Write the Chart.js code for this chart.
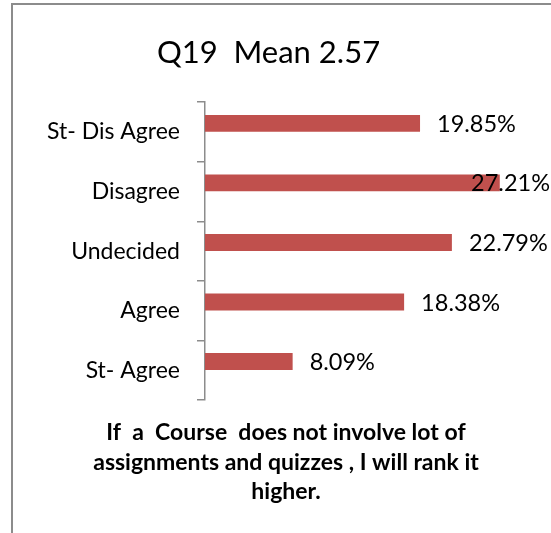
<!DOCTYPE html>
<html>
<head>
<meta charset="utf-8">
<script src="https://cdn.jsdelivr.net/npm/chart.js@4/dist/chart.umd.min.js"></script>
<style>
  html, body { margin: 0; padding: 0; background: #ffffff; overflow: hidden; }
  #frame { position: absolute; left: 11px; top: 3px; width: 700px; height: 700px;
           border-left: 2px solid #8c8c8c; border-top: 2px solid #8c8c8c; }
  #c { position: absolute; left: 0; top: 0; }
</style>
</head>
<body>
<div id="frame"></div>
<canvas id="c" width="551" height="533"></canvas>
<script>
// ---- data ----
const categories = ["St- Dis Agree", "Disagree", "Undecided", "Agree", "St- Agree"];
const percentValues = [19.85, 27.21, 22.79, 18.38, 8.09];
const emptySeries = [null, null, null, null, null];
const chartTitle = "Q19  Mean 2.57";
const captionLines = ["If  a  Course  does not involve lot of",
                      "assignments and quizzes , I will rank it",
                      "higher."];

const FONT = "Lato, 'Open Sans', 'Liberation Sans', sans-serif";

const valueLabels = {
  id: 'valueLabels',
  afterDatasetsDraw(chart) {
    const ctx = chart.ctx;
    const meta = chart.getDatasetMeta(0);
    ctx.save();
    ctx.font = "23.5px " + FONT;
    ctx.fillStyle = "#000000";
    ctx.textBaseline = "middle";
    ctx.textAlign = "left";
    meta.data.forEach((bar, i) => {
      const txt = percentValues[i].toFixed(2) + "%";
      const w = ctx.measureText(txt).width;
      let x = bar.x + 17;
      x = Math.min(x, chart.width - w - 1);
      ctx.fillText(txt, x, bar.y + 1);
    });
    ctx.restore();
  }
};

const caption = {
  id: 'caption',
  afterDraw(chart) {
    const ctx = chart.ctx;
    ctx.save();
    ctx.font = "bold 23px " + FONT;
    ctx.fillStyle = "#000000";
    ctx.textAlign = "center";
    ctx.textBaseline = "alphabetic";
    const cx = 286;
    captionLines.forEach((line, i) => {
      ctx.fillText(line, cx, 440 + i * 29.5);
    });
    ctx.restore();
  }
};

new Chart(document.getElementById('c'), {
  type: 'bar',
  data: {
    labels: categories,
    datasets: [
      { data: percentValues, backgroundColor: '#C0504D', borderWidth: 0,
        categoryPercentage: 0.58, barPercentage: 0.98 },
      { data: emptySeries, backgroundColor: '#4F81BD', borderWidth: 0,
        categoryPercentage: 0.58, barPercentage: 0.98 }
    ]
  },
  options: {
    indexAxis: 'y',
    responsive: false,
    animation: false,
    devicePixelRatio: 1,
    layout: { padding: { left: 7, right: 21, top: 0, bottom: 133 } },
    plugins: {
      legend: { display: false },
      tooltip: { enabled: false },
      title: {
        display: true,
        text: chartTitle,
        color: '#000000',
        font: { family: FONT, size: 31, weight: 'normal', lineHeight: 1.2 },
        padding: { top: 34, bottom: 31 }
      }
    },
    scales: {
      x: {
        display: false,
        min: 0,
        max: 30
      },
      y: {
        afterFit(scale) { scale.width = 198; },
        grid: {
          display: true,
          drawOnChartArea: false,
          drawTicks: true,
          tickLength: 8,
          color: '#8c8c8c',
          lineWidth: 1.5,
          offset: true
        },
        border: { display: true, color: '#8c8c8c', width: 1.5 },
        ticks: {
          color: '#000000',
          padding: 17,
          font: { family: FONT, size: 23 }
        }
      }
    }
  },
  plugins: [valueLabels, caption]
});
</script>
</body>
</html>
